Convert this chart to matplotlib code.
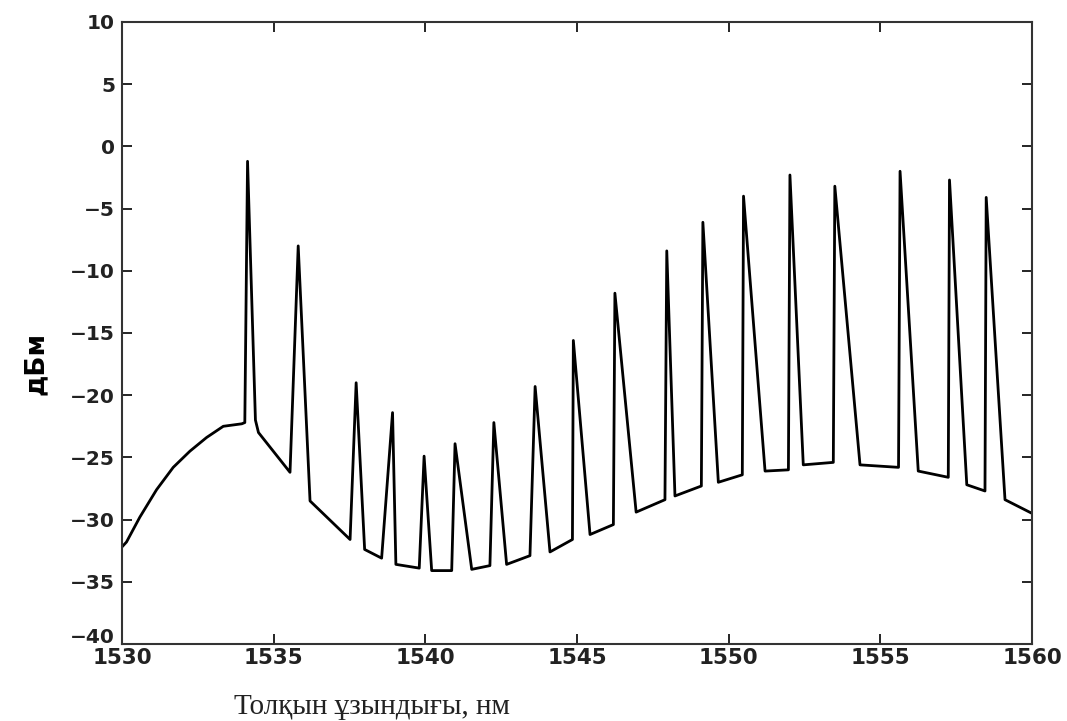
import matplotlib
matplotlib.use("Agg")
import matplotlib.pyplot as plt
import matplotlib.transforms as mtransforms

# wavelength (nm) and power (dBm) polyline
wavelength = [
    1530.0, 1530.15, 1530.59, 1531.14, 1531.69, 1532.24, 1532.79, 1533.34, 1533.95,
    1534.05, 1534.14, 1534.25, 1534.40, 1534.50,
    1535.54, 1535.81, 1536.20,
    1537.52, 1537.72, 1538.00,
    1538.56, 1538.92, 1539.03,
    1539.80, 1539.96, 1540.21,
    1540.87, 1540.98, 1541.53,
    1542.13, 1542.26, 1542.68,
    1543.45, 1543.62, 1544.11,
    1544.85, 1544.88, 1545.43,
    1546.20, 1546.25, 1546.95,
    1547.90, 1547.96, 1548.23,
    1549.10, 1549.15, 1549.66,
    1550.45, 1550.49, 1551.20,
    1551.97, 1552.02, 1552.46,
    1553.45, 1553.50, 1554.33,
    1555.60, 1555.65, 1556.25,
    1557.24, 1557.28, 1557.85,
    1558.45, 1558.49, 1559.11,
    1560.0,
]
power_dbm = [
    -32.2, -31.8, -29.8, -27.6, -25.8, -24.5, -23.4, -22.5, -22.3,
    -22.2, -1.2, -10.0, -22.0, -23.0,
    -26.2, -8.0, -28.5,
    -31.6, -19.0, -32.4,
    -33.1, -21.4, -33.6,
    -33.9, -24.9, -34.1,
    -34.1, -23.9, -34.0,
    -33.7, -22.2, -33.6,
    -32.9, -19.3, -32.6,
    -31.6, -15.6, -31.2,
    -30.4, -11.8, -29.4,
    -28.4, -8.4, -28.1,
    -27.3, -6.1, -27.0,
    -26.4, -4.0, -26.1,
    -26.0, -2.3, -25.6,
    -25.4, -3.2, -25.6,
    -25.8, -2.0, -26.1,
    -26.6, -2.7, -27.2,
    -27.7, -4.1, -28.4,
    -29.5,
]

x_ticks = [1530, 1535, 1540, 1545, 1550, 1555, 1560]
y_ticks = [-40, -35, -30, -25, -20, -15, -10, -5, 0, 5, 10]
y_tick_labels = ["-40", "-35", "-30", "-25", "-20", "-15", "-10", "-5", "0", "5", "10"]

fig = plt.figure(figsize=(10.67, 7.21), dpi=100)
ax = fig.add_axes([0.1143, 0.1068, 0.8529, 0.8627])

ax.plot(wavelength, power_dbm, color="black", linewidth=2.0)

ax.set_xlim(1530, 1560)
ax.set_ylim(-40, 10)
ax.set_xticks(x_ticks)
ax.set_yticks(y_ticks)
ax.set_yticklabels([l.replace("-", "\u2212") for l in y_tick_labels])

ax.tick_params(direction="in", top=True, right=True, length=7, width=1.2)
ax.tick_params(axis="y", pad=5, labelsize=14.5)
ax.tick_params(axis="x", pad=3, labelsize=15.5)
for lab in ax.get_xticklabels() + ax.get_yticklabels():
    lab.set_family("DejaVu Sans")
    lab.set_fontweight("bold")
    lab.set_color("#222222")
for sp in ax.spines.values():
    sp.set_linewidth(1.5)
    sp.set_color("#333333")

# the lowest y label sits a little above the corner, as in the reference
low = ax.get_yticklabels()[0]
low.set_transform(low.get_transform() +
                  mtransforms.ScaledTranslation(0, 6 / 72, fig.dpi_scale_trans))

fig.text(36 / 1067, 1 - 363 / 721, "дБм", rotation=90, fontsize=19,
         fontweight="bold", family="DejaVu Sans", ha="center", va="center")
fig.text(372 / 1067, 7 / 721, "Толқын ұзындығы, нм", fontsize=21,
         family="Liberation Serif", ha="center", va="baseline", color="#222222")

fig.savefig("out.png", dpi=100)
